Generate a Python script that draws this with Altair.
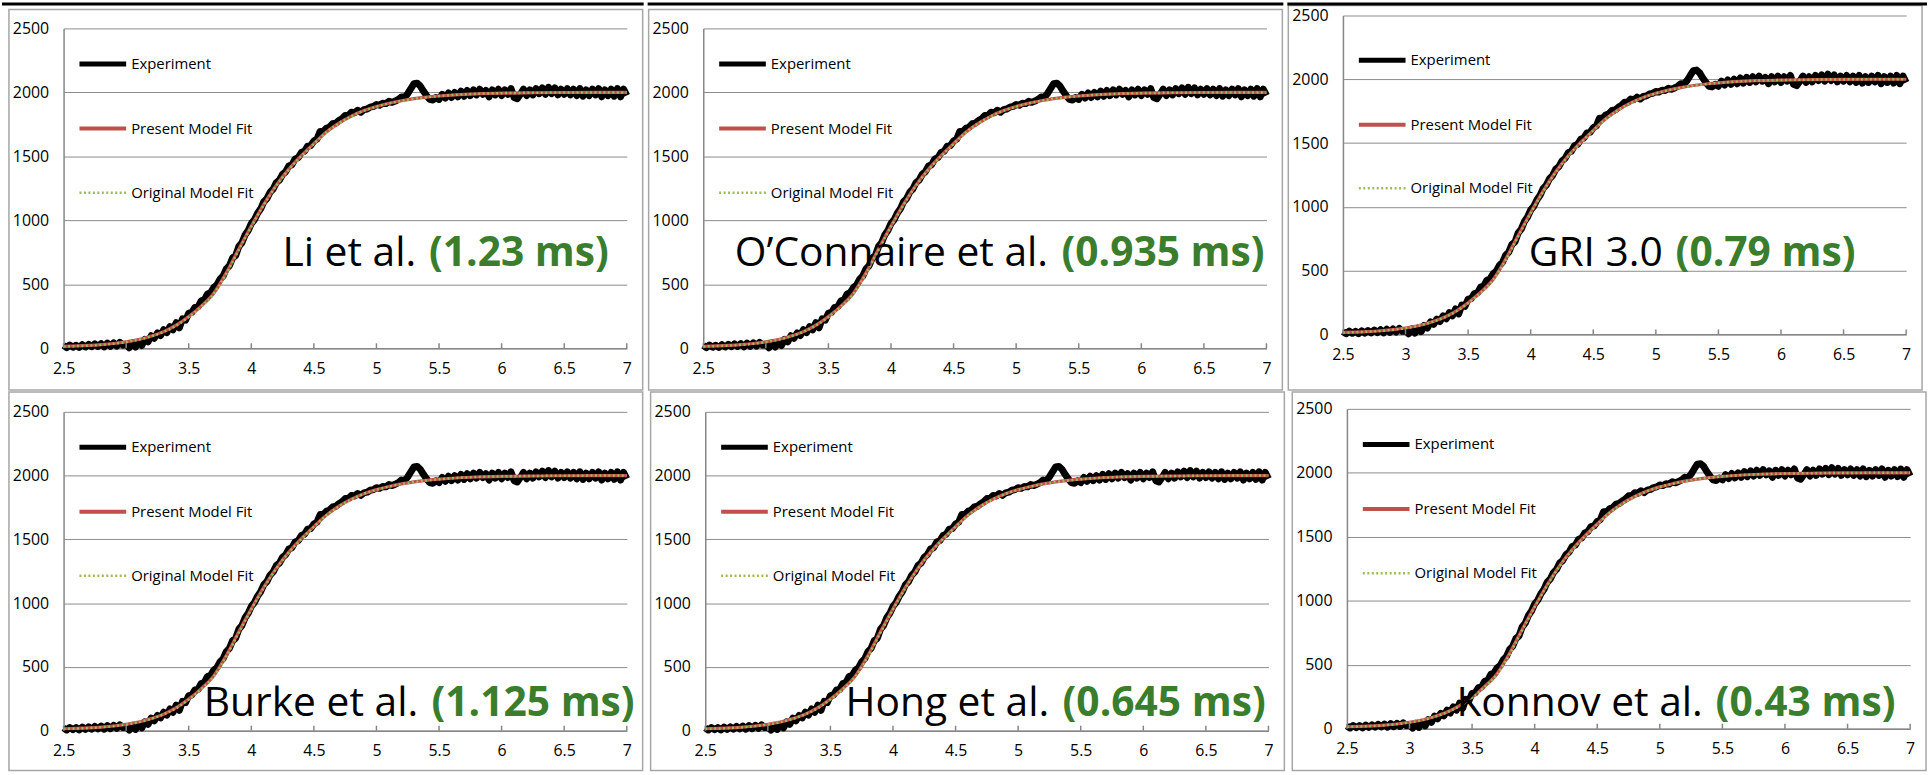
import altair as alt
import pandas as pd

# ---------------- data ----------------
series_names = ["Experiment", "Present Model Fit", "Original Model Fit"]
series_colors = ["#000000", "#c0504d", "#9bbb59"]

# experimental trace, sampled every 0.025 ms from 2.5 ms
exp_signal = [
    22, 5, 25, 8, 24, 6, 28, 10, 30, 12,
    34, 14, 36, 12, 40, 16, 42, 18, 46, 24,
    30, 4, 42, 10, 48, 22, 70, 50, 98, 78,
    120, 100, 145, 122, 170, 145, 200, 160, 230, 220,
    275, 280, 320, 325, 370, 378, 425, 435, 475, 495,
    540, 565, 620, 645, 705, 725, 795, 825, 885, 920,
    975, 1005, 1055, 1090, 1145, 1170, 1220, 1245, 1295, 1315,
    1360, 1380, 1425, 1435, 1480, 1490, 1530, 1540, 1580, 1585,
    1620, 1635, 1695, 1695, 1720, 1730, 1755, 1760, 1780, 1795,
    1820, 1820, 1845, 1840, 1860, 1845, 1865, 1870, 1885, 1890,
    1905, 1900, 1915, 1912, 1930, 1922, 1932, 1945, 1965, 1960,
    1990, 2030, 2068, 2072, 2050, 2010, 1975, 1945, 1940, 1960,
    1945, 1985, 1955, 1995, 1960, 2000, 1965, 2010, 1970, 2015,
    1975, 2020, 1980, 2025, 1985, 2015, 1965, 2020, 1980, 2025,
    1975, 2020, 1985, 2030, 1960, 1950, 1985, 2025, 1975, 2020,
    1980, 2030, 1990, 2035, 1985, 2040, 1990, 2035, 1980, 2025,
    1985, 2030, 1980, 2025, 1975, 2030, 1970, 2020, 1975, 2025,
    1980, 2030, 1965, 2020, 1975, 2025, 1970, 2030, 1965, 2025,
    1975,
]
exp_start = 2.5
exp_step = 0.025
exp_t = [round(exp_start + exp_step * i, 3) for i in range(len(exp_signal))]

fit_t = [2.5, 2.6, 2.7, 2.8, 2.9, 3.0, 3.1, 3.2, 3.3, 3.4, 3.5, 3.6, 3.7, 3.8, 3.9,
         4.0, 4.1, 4.2, 4.3, 4.4, 4.5, 4.6, 4.7, 4.8, 4.9, 5.0, 5.1, 5.2, 5.3, 5.4,
         5.5, 5.6, 5.8, 6.0, 6.25, 6.5, 6.75, 7.0]
present_fit = [15, 18, 22, 28, 37, 50, 68, 95, 130, 180, 248, 330, 430, 590, 775,
               955, 1125, 1275, 1400, 1505, 1600, 1690, 1760, 1815, 1858, 1890, 1915,
               1935, 1951, 1963, 1972, 1979, 1989, 1994, 1997, 1999, 2000, 2000]
original_fit = [14, 17, 21, 27, 36, 49, 67, 93, 128, 177, 244, 326, 425, 583, 768,
                950, 1120, 1271, 1397, 1502, 1598, 1688, 1759, 1814, 1857, 1889, 1914,
                1934, 1950, 1962, 1971, 1979, 1989, 1994, 1997, 1999, 2000, 2000]

panel_names = ["Li et al.", "O\u2019Connaire et al.", "GRI 3.0",
               "Burke et al.", "Hong et al.", "Konnov et al."]
panel_times = ["(1.23 ms)", "(0.935 ms)", "(0.79 ms)",
               "(1.125 ms)", "(0.645 ms)", "(0.43 ms)"]
label_x = [6.857, 6.985, 6.595, 7.063, 6.978, 6.883]
label_y = [644, 644, 537, 117, 117, 101]

legend_y = [[2222, 1717, 1215], [2222, 1717, 1215], [2150, 1643, 1145],
            [2222, 1717, 1215], [2222, 1717, 1215], [2222, 1717, 1215]]
legend_x = [2.627, 3.0, 3.04]

x_ticks = [2.5, 3, 3.5, 4, 4.5, 5, 5.5, 6, 6.5, 7]
y_ticks = [0, 500, 1000, 1500, 2000, 2500]

# ---------------- layout (pixels) ----------------
W = 567
heights = [335, 335, 321, 324, 324, 322]
y_ranges = [[335, 13], [335, 13], [321, 0], [324, 3], [324, 3], [322, 0]]
frame_y = [[-6, 377], [-6, 377], [-10, 377], [-17, 364], [-17, 364], [-17, 364]]
topline_x = [[-62, W + 17], [-56, W + 17], [-56, W + 21], None, None, None]
green_w = [182, 206, 182, 206, 206, 182]
legend_widths = [5, 4, 2.5]
legend_dash = [None, None, [2, 2.5]]

FONT = "Open Sans"
GREEN = "#3a7d2c"

exp_df = pd.DataFrame({"t": exp_t, "v": exp_signal})
fit_df = pd.DataFrame({"t": fit_t, "present": present_fit, "original": original_fit})
tick_df = pd.DataFrame({"t": x_ticks})
one = pd.DataFrame({"a": [0]})


def panel(i):
    H = heights[i]
    xs = alt.Scale(domain=[2.5, 7], nice=False, zero=False)
    ys = alt.Scale(domain=[0, 2500], range=y_ranges[i], nice=False, zero=False)
    xax = alt.Axis(values=x_ticks, format="~g", grid=False, ticks=False,
                   labelPadding=12, title=None, labelFlush=False)
    yax = alt.Axis(values=y_ticks, format="d", grid=True, ticks=False,
                   labelPadding=15, title=None)

    def X(f):
        return alt.X(f, scale=xs, axis=xax)

    def Y(f):
        return alt.Y(f, scale=ys, axis=yax)

    layers = []
    fy = frame_y[i]
    layers.append(
        alt.Chart(one).mark_rect(fillOpacity=0, stroke="#a6a6a6", strokeWidth=1.5).encode(
            x=alt.value(-55), x2=alt.value(W + 16), y=alt.value(fy[0]), y2=alt.value(fy[1]))
    )
    if topline_x[i] is not None:
        layers.append(
            alt.Chart(one).mark_rule(color="black", strokeWidth=3).encode(
                x=alt.value(topline_x[i][0]), x2=alt.value(topline_x[i][1]), y=alt.value(-11.5))
        )
    else:
        layers.append(
            alt.Chart(one).mark_rule(opacity=0, strokeWidth=1).encode(
                x=alt.value(-62), x2=alt.value(-61), y=alt.value(0))
        )
    layers.append(
        alt.Chart(exp_df).mark_line(color="black", strokeWidth=7, strokeJoin="round").encode(
            x=X("t:Q"), y=Y("v:Q"))
    )
    layers.append(
        alt.Chart(fit_df).mark_line(color=series_colors[1], strokeWidth=3.2, interpolate="monotone").encode(
            x=X("t:Q"), y=Y("present:Q"))
    )
    layers.append(
        alt.Chart(fit_df).mark_line(color=series_colors[2], strokeWidth=2.5, strokeDash=[2, 2.5],
                                    interpolate="monotone").encode(
            x=X("t:Q"), y=Y("original:Q"))
    )
    layers.append(
        alt.Chart(tick_df).mark_rule(color="#868686", strokeWidth=1.5).encode(
            x=X("t:Q"), y=alt.value(H - 5), y2=alt.value(H))
    )
    # legend
    for k in range(3):
        d = pd.DataFrame({"x0": [legend_x[0]], "x1": [legend_x[1]], "y": [legend_y[i][k]]})
        kw = dict(color=series_colors[k], strokeWidth=legend_widths[k])
        if legend_dash[k] is not None:
            kw["strokeDash"] = legend_dash[k]
        layers.append(alt.Chart(d).mark_rule(**kw).encode(x=X("x0:Q"), x2="x1:Q", y=Y("y:Q")))
    ld = pd.DataFrame({"x": [legend_x[2]] * 3, "y": legend_y[i], "label": series_names})
    layers.append(
        alt.Chart(ld).mark_text(align="left", baseline="middle", font=FONT, fontSize=15,
                                color="black").encode(x=X("x:Q"), y=Y("y:Q"), text="label:N")
    )
    # annotation
    ad = pd.DataFrame({"x": [label_x[i]], "y": [label_y[i]],
                       "name": [panel_names[i]], "time": [panel_times[i]]})
    layers.append(
        alt.Chart(ad).mark_text(align="right", baseline="alphabetic", font=FONT, fontSize=41,
                                color="black", dx=-(green_w[i] + 12)).encode(
            x=X("x:Q"), y=Y("y:Q"), text="name:N")
    )
    layers.append(
        alt.Chart(ad).mark_text(align="right", baseline="alphabetic", font=FONT, fontSize=41,
                                fontWeight="bold", color=GREEN).encode(
            x=X("x:Q"), y=Y("y:Q"), text="time:N")
    )
    return alt.layer(*layers).properties(width=W, height=H)


row1 = alt.hconcat(panel(0), panel(1), panel(2), spacing=0)
row2 = alt.hconcat(panel(3), panel(4), panel(5), spacing=0)

chart = (
    alt.vconcat(row1, row2, spacing=0)
    .properties(padding=0, background="white")
    .configure_view(stroke=None)
    .configure_axis(labelFont=FONT, labelFontSize=16, labelColor="#000000",
                    domainColor="#868686", domainWidth=1.5,
                    gridColor="#8c8c8c", gridWidth=1)
)

chart.save("out.html", embed_options={"renderer": "svg", "actions": False})
